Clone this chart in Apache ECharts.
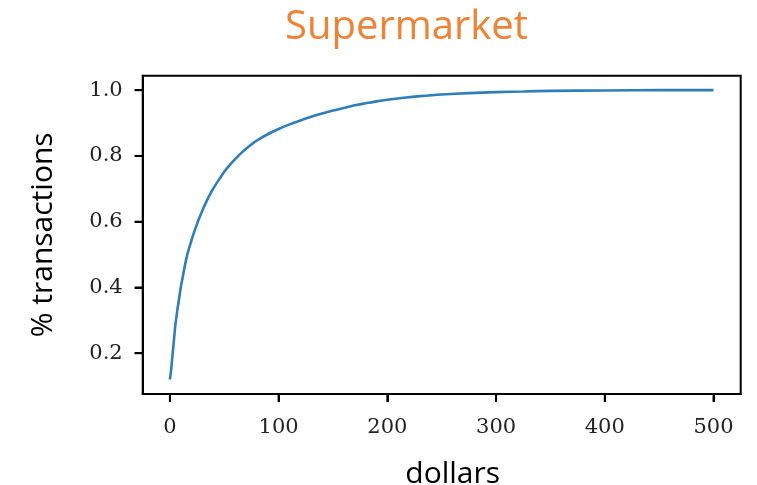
<!DOCTYPE html>
<html>
<head>
<meta charset="utf-8">
<script src="https://cdn.jsdelivr.net/npm/echarts@6/dist/echarts.min.js"></script>
<style>
  html, body { margin: 0; padding: 0; background: #fff; }
  #chart { width: 757px; height: 485px; }
</style>
</head>
<body>
<div id="chart"></div>
<script>
// Cumulative share of supermarket transactions by purchase amount
const dollars = [0, 1, 2, 3, 4, 5, 6, 7, 8, 10, 12, 14, 16, 18, 20, 23, 26, 30, 34, 38,
  42, 46, 50, 55, 60, 65, 70, 75, 80, 90, 100, 110, 120, 130, 140, 150, 160, 170, 180,
  190, 200, 215, 230, 250, 275, 300, 325, 350, 400, 450, 500];
const shareOfTransactions = [0.12, 0.145, 0.18, 0.215, 0.25, 0.285, 0.31, 0.335, 0.355,
  0.40, 0.435, 0.47, 0.50, 0.523, 0.545, 0.575, 0.602, 0.635, 0.664, 0.69,
  0.712, 0.732, 0.752, 0.772, 0.79, 0.807, 0.822, 0.835, 0.847, 0.866,
  0.882, 0.896, 0.908, 0.919, 0.929, 0.938, 0.946, 0.954, 0.96,
  0.966, 0.971, 0.977, 0.982, 0.987, 0.991, 0.994, 0.996, 0.998, 0.999, 1.0, 1.0];
const xTicks = [0, 100, 200, 300, 400, 500];
const yTicks = [0.2, 0.4, 0.6, 0.8, 1.0];
const titleText = 'Supermarket';
const xName = 'dollars';
const yName = '% transactions';

// 5% padding around the data range on both axes
function padded(values) {
  const lo = Math.min(...values), hi = Math.max(...values);
  const pad = 0.05 * (hi - lo);
  return [lo - pad, hi + pad];
}
const [xMin, xMax] = padded(dollars);
const [yMin, yMax] = padded(shareOfTransactions);

const GRID = { left: 142.7, right: 16.3, top: 75.7, bottom: 91 };
const W = 757, H = 485;
const TICK_LEN = 8;
const tickFont = { fontFamily: 'DejaVu Serif', fontSize: 21, color: '#222' };

// Outward tick mark at a point on an axis edge; dx/dy give its direction
function tickMark(api, dx, dy) {
  const p = api.coord([api.value(0), api.value(1)]);
  return {
    type: 'line',
    shape: { x1: p[0], y1: p[1], x2: p[0] + dx * TICK_LEN, y2: p[1] + dy * TICK_LEN },
    style: { stroke: '#000', lineWidth: 2 }
  };
}

const plotBottom = H - GRID.bottom;
const plotMidY = (GRID.top + plotBottom) / 2;

const chart = echarts.init(document.getElementById('chart'), null, { renderer: 'canvas' });
chart.setOption({
  animation: false,
  graphic: [
    {
      type: 'text', x: 285, y: 8,
      style: { text: titleText, fontFamily: 'Open Sans', fontSize: 40, fill: '#F08236',
        align: 'left', verticalAlign: 'top' }
    },
    {
      type: 'text', x: 452.7, y: plotBottom + 65,
      style: { text: xName, fontFamily: 'Open Sans', fontSize: 30, fill: '#000',
        align: 'center', verticalAlign: 'top' }
    },
    {
      type: 'text', x: GRID.left - 84, y: plotMidY, rotation: Math.PI / 2,
      style: { text: yName, fontFamily: 'Open Sans', fontSize: 30, fill: '#000',
        align: 'center', verticalAlign: 'bottom' }
    }
  ],
  grid: Object.assign({ outerBoundsMode: 'none', show: true, borderColor: '#000', borderWidth: 2 }, GRID),
  xAxis: {
    type: 'value',
    min: xMin, max: xMax,
    axisLine: { show: true, onZero: false, lineStyle: { color: '#000', width: 2 } },
    splitLine: { show: false },
    axisTick: { show: true, inside: false, length: TICK_LEN, customValues: xTicks,
      lineStyle: { color: '#000', width: 2 } },
    axisLabel: Object.assign({ margin: 23, customValues: xTicks, formatter: v => String(Math.round(v)) }, tickFont)
  },
  yAxis: {
    type: 'value',
    min: yMin, max: yMax,
    axisLine: { show: true, onZero: false, lineStyle: { color: '#000', width: 2 } },
    splitLine: { show: false },
    axisTick: { show: true, inside: false, length: TICK_LEN, customValues: yTicks,
      lineStyle: { color: '#000', width: 2 } },
    axisLabel: Object.assign({ margin: 20, customValues: yTicks, formatter: v => v.toFixed(1) }, tickFont)
  },
  series: [
    {
      type: 'line',
      data: dollars.map((d, i) => [d, shareOfTransactions[i]]),
      smooth: 0.25,
      showSymbol: false,
      lineStyle: { color: '#2f7ebc', width: 2.6 }
    },
    {
      type: 'custom',
      clip: false,
      silent: true,
      z: 10,
      data: xTicks.map(v => [v, yMin]),
      encode: { x: 0, y: 1 },
      renderItem: (params, api) => tickMark(api, 0, 1)
    },
    {
      type: 'custom',
      clip: false,
      silent: true,
      z: 10,
      data: yTicks.map(v => [xMin, v]),
      encode: { x: 0, y: 1 },
      renderItem: (params, api) => tickMark(api, -1, 0)
    }
  ]
});
</script>
</body>
</html>
